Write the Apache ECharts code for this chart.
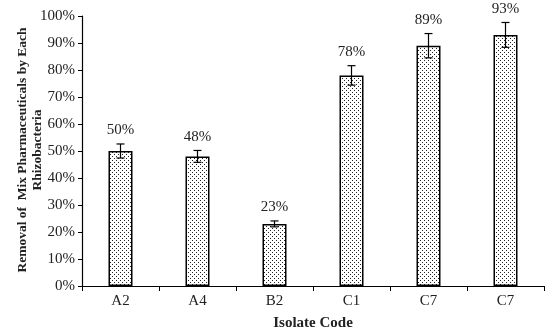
<!DOCTYPE html>
<html><head><meta charset="utf-8">
<script src="https://cdn.jsdelivr.net/npm/echarts@6/dist/echarts.min.js"></script>
<style>html,body{margin:0;padding:0;background:#fff}#c{width:550px;height:331px}</style>
</head><body><div id="c"></div>
<script>
const categories = ['A2', 'A4', 'B2', 'C1', 'C7', 'C7 '];
const removal = [50, 48, 23, 78, 89, 93];
const errors = [2.6, 2.2, 1.1, 3.6, 4.5, 4.6];
const yTicks = [0, 10, 20, 30, 40, 50, 60, 70, 80, 90, 100];
const yName = 'Removal of  Mix Pharmaceuticals by Each\nRhizobacteria';
const xName = 'Isolate Code';

const pc = document.createElement('canvas');
pc.width = 4; pc.height = 4;
const px = pc.getContext('2d');
px.fillStyle = '#fff'; px.fillRect(0, 0, 4, 4);
px.fillStyle = '#222';
px.fillRect(0, 0, 1, 1);
px.fillRect(2, 2, 1, 1);

const font = '"Liberation Serif", "Times New Roman", serif';
const chart = echarts.init(document.getElementById('c'));
chart.setOption({
  animation: false,
  grid: { left: 82, right: 6, top: 16, bottom: 45, containLabel: false, outerBoundsMode: 'none' },
  graphic: [{
    type: 'text', x: 30, y: 150, rotation: Math.PI / 2,
    style: { text: yName, textAlign: 'center', textVerticalAlign: 'middle', font: 'bold 13.5px ' + font, fill: '#222', lineHeight: 15 }
  }],
  xAxis: {
    type: 'category', data: categories,
    axisLine: { lineStyle: { color: '#000', width: 1.2 } },
    axisTick: { show: true, length: 5, lineStyle: { color: '#000' } },
    axisLabel: { color: '#222', fontFamily: font, fontSize: 15, margin: 8, formatter: v => v.trim() },
    name: xName, nameLocation: 'middle', nameGap: 30,
    nameTextStyle: { fontFamily: font, fontWeight: 'bold', fontSize: 15, color: '#222' }
  },
  yAxis: {
    type: 'value', min: 0, max: 100, interval: 10,
    axisLine: { show: true, lineStyle: { color: '#000', width: 1.2 } },
    axisTick: { show: true, length: 4, lineStyle: { color: '#000' } },
    splitLine: { show: false },
    axisLabel: { color: '#222', fontFamily: font, fontSize: 15, margin: 7, formatter: v => v + '%' }
  },
  series: [{
    type: 'bar', data: removal, barWidth: 24,
    itemStyle: { color: { image: pc, repeat: 'repeat' }, borderColor: '#000', borderWidth: 1.5 }
  }, {
    type: 'custom',
    data: removal.map((v, i) => [i, v, errors[i]]),
    renderItem: function (params, api) {
      const i = api.value(0), v = api.value(1), e = api.value(2);
      const top = api.coord([i, v + e]);
      const bot = api.coord([i, v - e]);
      const w = 4;
      const st = { stroke: '#000', lineWidth: 1.2 };
      return {
        type: 'group', children: [
          { type: 'line', shape: { x1: top[0], y1: top[1], x2: bot[0], y2: bot[1] }, style: st },
          { type: 'line', shape: { x1: top[0] - w, y1: top[1], x2: top[0] + w, y2: top[1] }, style: st },
          { type: 'line', shape: { x1: bot[0] - w, y1: bot[1], x2: bot[0] + w, y2: bot[1] }, style: st },
          { type: 'text', style: { text: v + '%', x: top[0], y: top[1] - 6, textAlign: 'center', textVerticalAlign: 'bottom', font: '15px ' + font, fill: '#222' } }
        ]
      };
    },
    z: 5
  }]
});
</script></body></html>
